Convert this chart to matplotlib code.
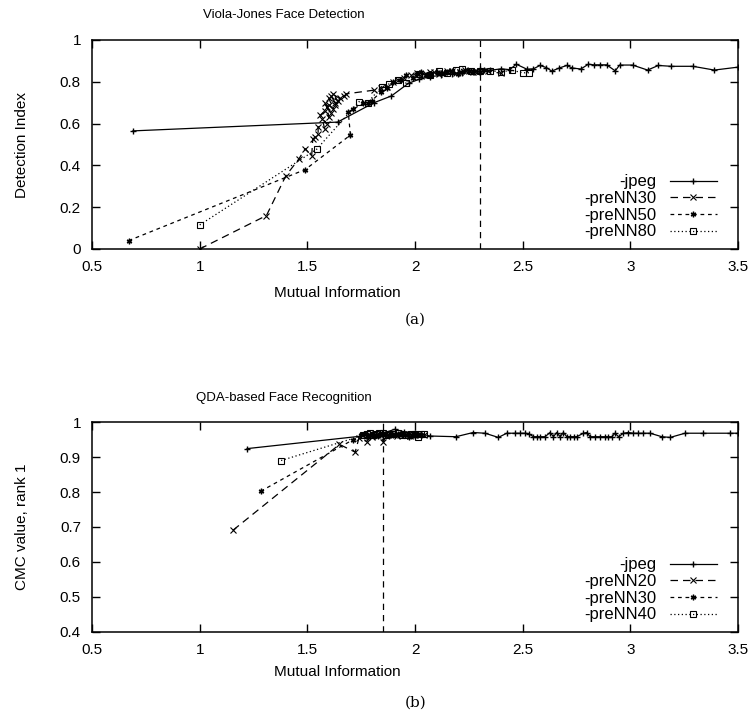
import matplotlib
matplotlib.use("Agg")
import matplotlib.pyplot as plt

plt.rcParams['font.family'] = ['Liberation Sans', 'DejaVu Sans']

# ---- (a) Viola-Jones face detection ----
a_jpeg_x = [0.69, 1.64, 1.81, 1.89, 1.97, 2.02, 2.07, 2.12, 2.17, 2.22, 2.27, 2.30, 2.35, 2.40, 2.44,
            2.47, 2.52, 2.55, 2.58, 2.61, 2.635, 2.67, 2.705, 2.73, 2.77, 2.805, 2.83, 2.86, 2.89,
            2.93, 2.95, 3.01, 3.08, 3.13, 3.19, 3.29, 3.39, 3.50]
a_jpeg_y = [0.565, 0.607, 0.700, 0.732, 0.793, 0.812, 0.825, 0.830, 0.838, 0.840, 0.845, 0.860, 0.855,
            0.862, 0.858, 0.884, 0.860, 0.862, 0.878, 0.868, 0.851, 0.866, 0.878, 0.866, 0.861, 0.884,
            0.881, 0.881, 0.881, 0.852, 0.880, 0.880, 0.856, 0.878, 0.874, 0.874, 0.856, 0.870]

a_nn30_x = [1.00, 1.31, 1.40, 1.46, 1.49, 1.52, 1.525, 1.535, 1.55, 1.55, 1.58, 1.57, 1.59, 1.56, 1.58,
            1.60, 1.59, 1.61, 1.58, 1.60, 1.62, 1.60, 1.63, 1.61, 1.64, 1.62, 1.65, 1.63, 1.67, 1.68,
            1.81, 1.84, 1.87, 1.90, 1.92, 1.95, 1.98, 2.01, 2.03, 2.05, 2.07, 2.09, 2.11, 2.13, 2.15,
            2.17, 2.19, 2.21, 2.23, 2.25, 2.27, 2.29, 2.34, 2.40]
a_nn30_y = [0.00, 0.16, 0.35, 0.43, 0.48, 0.445, 0.525, 0.535, 0.55, 0.585, 0.575, 0.62, 0.60, 0.64,
            0.66, 0.63, 0.68, 0.65, 0.70, 0.69, 0.67, 0.72, 0.70, 0.73, 0.71, 0.74, 0.72, 0.69, 0.73,
            0.742, 0.76, 0.77, 0.775, 0.80, 0.81, 0.82, 0.83, 0.84, 0.828, 0.835, 0.848, 0.845, 0.838,
            0.84, 0.852, 0.85, 0.842, 0.845, 0.855, 0.85, 0.845, 0.848, 0.852, 0.84]

a_nn50_x = [0.67, 1.49, 1.70, 1.69, 1.71, 1.76, 1.78, 1.80, 1.84, 1.87, 1.90, 1.93, 1.96, 1.99, 2.01,
            2.03, 2.05, 2.07, 2.10, 2.12, 2.15, 2.17, 2.20, 2.22, 2.25, 2.27, 2.30, 2.32]
a_nn50_y = [0.04, 0.38, 0.545, 0.655, 0.668, 0.697, 0.700, 0.710, 0.750, 0.770, 0.800, 0.810, 0.830,
            0.820, 0.838, 0.845, 0.832, 0.835, 0.848, 0.840, 0.846, 0.850, 0.838, 0.845, 0.853, 0.850,
            0.848, 0.855]

a_nn80_x = [1.00, 1.544, 1.74, 1.78, 1.845, 1.88, 1.92, 1.96, 2.02, 2.07, 2.11, 2.15, 2.19, 2.22, 2.26,
            2.30, 2.35, 2.40, 2.45, 2.50, 2.53]
a_nn80_y = [0.115, 0.478, 0.705, 0.700, 0.777, 0.790, 0.810, 0.793, 0.835, 0.833, 0.850, 0.840, 0.855,
            0.860, 0.850, 0.850, 0.852, 0.848, 0.855, 0.843, 0.843]

a_vline = 2.3

# ---- (b) QDA-based face recognition ----
b_jpeg_x = [1.22, 1.80, 1.85, 1.905, 1.95, 2.00, 2.07, 2.19, 2.27, 2.325, 2.387, 2.426, 2.465, 2.488,
            2.511, 2.527, 2.550, 2.565, 2.581, 2.604, 2.627, 2.643, 2.658, 2.674, 2.689, 2.705, 2.720,
            2.736, 2.751, 2.782, 2.798, 2.813, 2.836, 2.860, 2.883, 2.898, 2.914, 2.929, 2.945, 2.968,
            2.991, 3.014, 3.037, 3.061, 3.092, 3.146, 3.185, 3.254, 3.339, 3.463, 3.50]
b_jpeg_y = [0.924, 0.963, 0.968, 0.979, 0.972, 0.970, 0.960, 0.958, 0.970, 0.968, 0.956, 0.968, 0.968,
            0.968, 0.968, 0.967, 0.958, 0.958, 0.958, 0.958, 0.970, 0.958, 0.970, 0.958, 0.970, 0.958,
            0.958, 0.958, 0.958, 0.968, 0.970, 0.958, 0.958, 0.958, 0.958, 0.958, 0.958, 0.968, 0.958,
            0.968, 0.970, 0.968, 0.968, 0.968, 0.968, 0.958, 0.956, 0.968, 0.968, 0.968, 0.968]

b_nn20_x = [1.155, 1.649, 1.722, 1.74, 1.776, 1.79, 1.80, 1.82, 1.835, 1.853, 1.87, 1.885, 1.90, 1.915,
            1.93, 1.945, 1.96, 1.975, 1.99, 2.00, 2.02, 2.04]
b_nn20_y = [0.691, 0.936, 0.914, 0.955, 0.944, 0.962, 0.958, 0.962, 0.965, 0.944, 0.962, 0.966, 0.965,
            0.960, 0.962, 0.967, 0.965, 0.960, 0.966, 0.962, 0.965, 0.963]

b_nn30_x = [1.283, 1.711, 1.75, 1.765, 1.78, 1.79, 1.80, 1.815, 1.83, 1.845, 1.86, 1.88, 1.90, 1.92,
            1.94, 1.955, 1.97, 1.985, 2.00, 2.015, 2.03]
b_nn30_y = [0.802, 0.949, 0.962, 0.966, 0.958, 0.963, 0.965, 0.961, 0.960, 0.966, 0.965, 0.961, 0.962,
            0.967, 0.965, 0.962, 0.958, 0.964, 0.960, 0.966, 0.962]

b_nn40_x = [1.378, 1.76, 1.775, 1.79, 1.805, 1.82, 1.835, 1.85, 1.865, 1.88, 1.90, 1.92, 1.94, 1.96,
            1.98, 2.00, 2.016, 2.03, 2.04]
b_nn40_y = [0.890, 0.962, 0.967, 0.968, 0.963, 0.965, 0.969, 0.968, 0.964, 0.965, 0.967, 0.968, 0.964,
            0.962, 0.967, 0.965, 0.958, 0.966, 0.965]

b_vline = 1.85

xticks = [0.5, 1, 1.5, 2, 2.5, 3, 3.5]
xticklabels = ['0.5', '1', '1.5', '2', '2.5', '3', '3.5']

star = (6, 2, 0)
lw = 0.9
ms = 4

fig = plt.figure(figsize=(7.55, 7.24), dpi=100)
ax1 = fig.add_axes([0.1219, 0.6561, 0.8556, 0.2887])
ax2 = fig.add_axes([0.1219, 0.1271, 0.8556, 0.2900])


def style(ax, ylim, yticks, yticklabels):
    ax.set_xlim(0.5, 3.5)
    ax.set_ylim(*ylim)
    ax.set_xticks(xticks)
    ax.set_xticklabels(xticklabels)
    ax.set_yticks(yticks)
    ax.set_yticklabels(yticklabels)
    ax.tick_params(direction='in', top=True, right=True, length=6, width=1,
                   labelsize=11, pad=8)
    for s in ax.spines.values():
        s.set_linewidth(1.1)


ax1.plot(a_jpeg_x, a_jpeg_y, color='k', lw=lw, marker='+', ms=ms, label='-jpeg')
ax1.plot(a_nn30_x, a_nn30_y, color='k', lw=lw, ls=(0, (6, 4)), marker='x', ms=ms, mew=0.8, label='-preNN30')
ax1.plot(a_nn50_x, a_nn50_y, color='k', lw=lw, ls=(0, (3, 3)), marker=star, ms=ms, mew=1.0, label='-preNN50')
ax1.plot(a_nn80_x, a_nn80_y, color='k', lw=lw, ls=(0, (1, 2)), marker='s', ms=ms, mfc='none', mew=0.8, label='-preNN80')
ax1.axvline(a_vline, color='k', lw=0.9, ls=(0, (5, 4)))
style(ax1, (0, 1), [0, 0.2, 0.4, 0.6, 0.8, 1], ['0', '0.2', '0.4', '0.6', '0.8', '1'])
ax1.legend(loc='lower right', bbox_to_anchor=(0.985, -0.01), frameon=False, markerfirst=False,
           fontsize=12, handlelength=2.8, labelspacing=0.1, handletextpad=0.8, borderpad=0.2)

ax2.plot(b_jpeg_x, b_jpeg_y, color='k', lw=lw, marker='+', ms=ms, label='-jpeg')
ax2.plot(b_nn20_x, b_nn20_y, color='k', lw=lw, ls=(0, (6, 4)), marker='x', ms=ms, mew=0.8, label='-preNN20')
ax2.plot(b_nn30_x, b_nn30_y, color='k', lw=lw, ls=(0, (3, 3)), marker=star, ms=ms, mew=1.0, label='-preNN30')
ax2.plot(b_nn40_x, b_nn40_y, color='k', lw=lw, ls=(0, (1, 2)), marker='s', ms=ms, mfc='none', mew=0.8, label='-preNN40')
ax2.axvline(b_vline, color='k', lw=0.9, ls=(0, (5, 4)))
style(ax2, (0.4, 1), [0.4, 0.5, 0.6, 0.7, 0.8, 0.9, 1], ['0.4', '0.5', '0.6', '0.7', '0.8', '0.9', '1'])
ax2.legend(loc='lower right', bbox_to_anchor=(0.985, -0.01), frameon=False, markerfirst=False,
           fontsize=12, handlelength=2.8, labelspacing=0.1, handletextpad=0.8, borderpad=0.2)

# titles and labels placed like the gnuplot figure
fig.text(0.376, 0.979, 'Viola-Jones Face Detection', ha='center', va='center', fontsize=9.5)
fig.text(0.447, 0.595, 'Mutual Information', ha='center', va='center', fontsize=11)
fig.text(0.029, 0.80, 'Detection Index', ha='center', va='center', rotation=90, fontsize=11)
fig.text(0.55, 0.559, '(a)', ha='center', va='center', fontsize=11, family='DejaVu Serif')

fig.text(0.376, 0.450, 'QDA-based Face Recognition', ha='center', va='center', fontsize=9.5)
fig.text(0.447, 0.072, 'Mutual Information', ha='center', va='center', fontsize=11)
fig.text(0.029, 0.272, 'CMC value, rank 1', ha='center', va='center', rotation=90, fontsize=11)
fig.text(0.55, 0.030, '(b)', ha='center', va='center', fontsize=11, family='DejaVu Serif')

fig.savefig('out.png', dpi=100)
